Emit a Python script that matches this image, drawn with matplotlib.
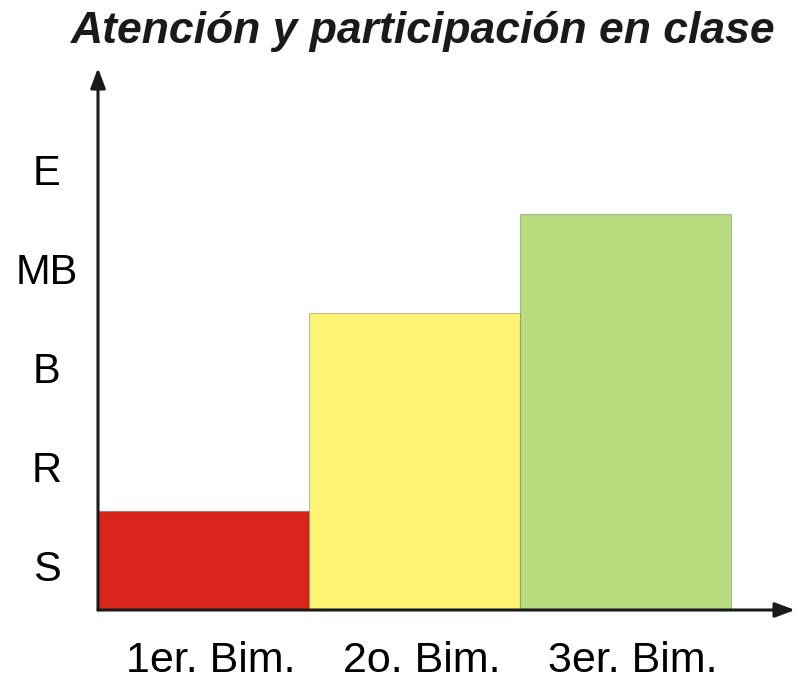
import matplotlib
matplotlib.use("Agg")
import matplotlib.pyplot as plt
import matplotlib.transforms as mtransforms

# data
periods = ["1er. Bim.", "2o. Bim.", "3er. Bim."]
levels = ["S", "R", "B", "MB", "E"]
scores = [1, 3, 4]
colors = ["#da251d", "#fdf573", "#b8dc7e"]

plt.rcParams["font.family"] = ["Liberation Sans", "DejaVu Sans"]

W, H = 798, 680
fig = plt.figure(figsize=(W / 100, H / 100), dpi=100)

# axes box in pixels: y axis at x=98, x axis at y=610, arrow tips at x=795 / y=68
x0, x1, y0, y1 = 98, 795, 610, 68
ax = fig.add_axes([x0 / W, (H - y0) / H, (x1 - x0) / W, (y0 - y1) / H])

xpos = list(range(len(periods)))
ax.bar(xpos, scores, width=1.0, align="edge", color=colors,
       edgecolor=(0.3, 0.3, 0.3, 0.35), linewidth=0.8, zorder=2)

ax.set_xlim(0, (x1 - x0) / 211)
ax.set_ylim(0, (y0 - y1) / 99)

ax.set_xticks([p + 0.5 for p in xpos])
ax.set_xticklabels(periods, fontsize=31)
ax.set_yticks([i + 0.45 for i in range(len(levels))])
ax.set_yticklabels(levels, fontsize=30, ha="center")
ax.tick_params(axis="x", length=0, pad=22)
ax.tick_params(axis="y", length=0, pad=37)

# labels sit a little right of the bar centres
shift = mtransforms.ScaledTranslation(7 / 100, 0, fig.dpi_scale_trans)
for lbl in ax.get_xticklabels():
    lbl.set_transform(lbl.get_transform() + shift)

for s in ax.spines.values():
    s.set_visible(False)

# axis arrows
arrow = dict(arrowstyle="-|>,head_length=1.2,head_width=0.45", color="#1a1a1a",
             lw=2.2, shrinkA=0, shrinkB=0)
ax.annotate("", xy=(0, 1), xytext=(0, 0), xycoords="axes fraction",
            arrowprops=arrow, zorder=3, annotation_clip=False)
ax.annotate("", xy=(1, 0), xytext=(0, 0), xycoords="axes fraction",
            arrowprops=arrow, zorder=3, annotation_clip=False)

fig.text(423 / W, 1 - 31 / H, "Atención y participación en clase",
         ha="center", va="center", fontsize=32, fontweight="bold",
         fontstyle="italic", color="#1a1a1a")

fig.savefig("out.png", dpi=100)
